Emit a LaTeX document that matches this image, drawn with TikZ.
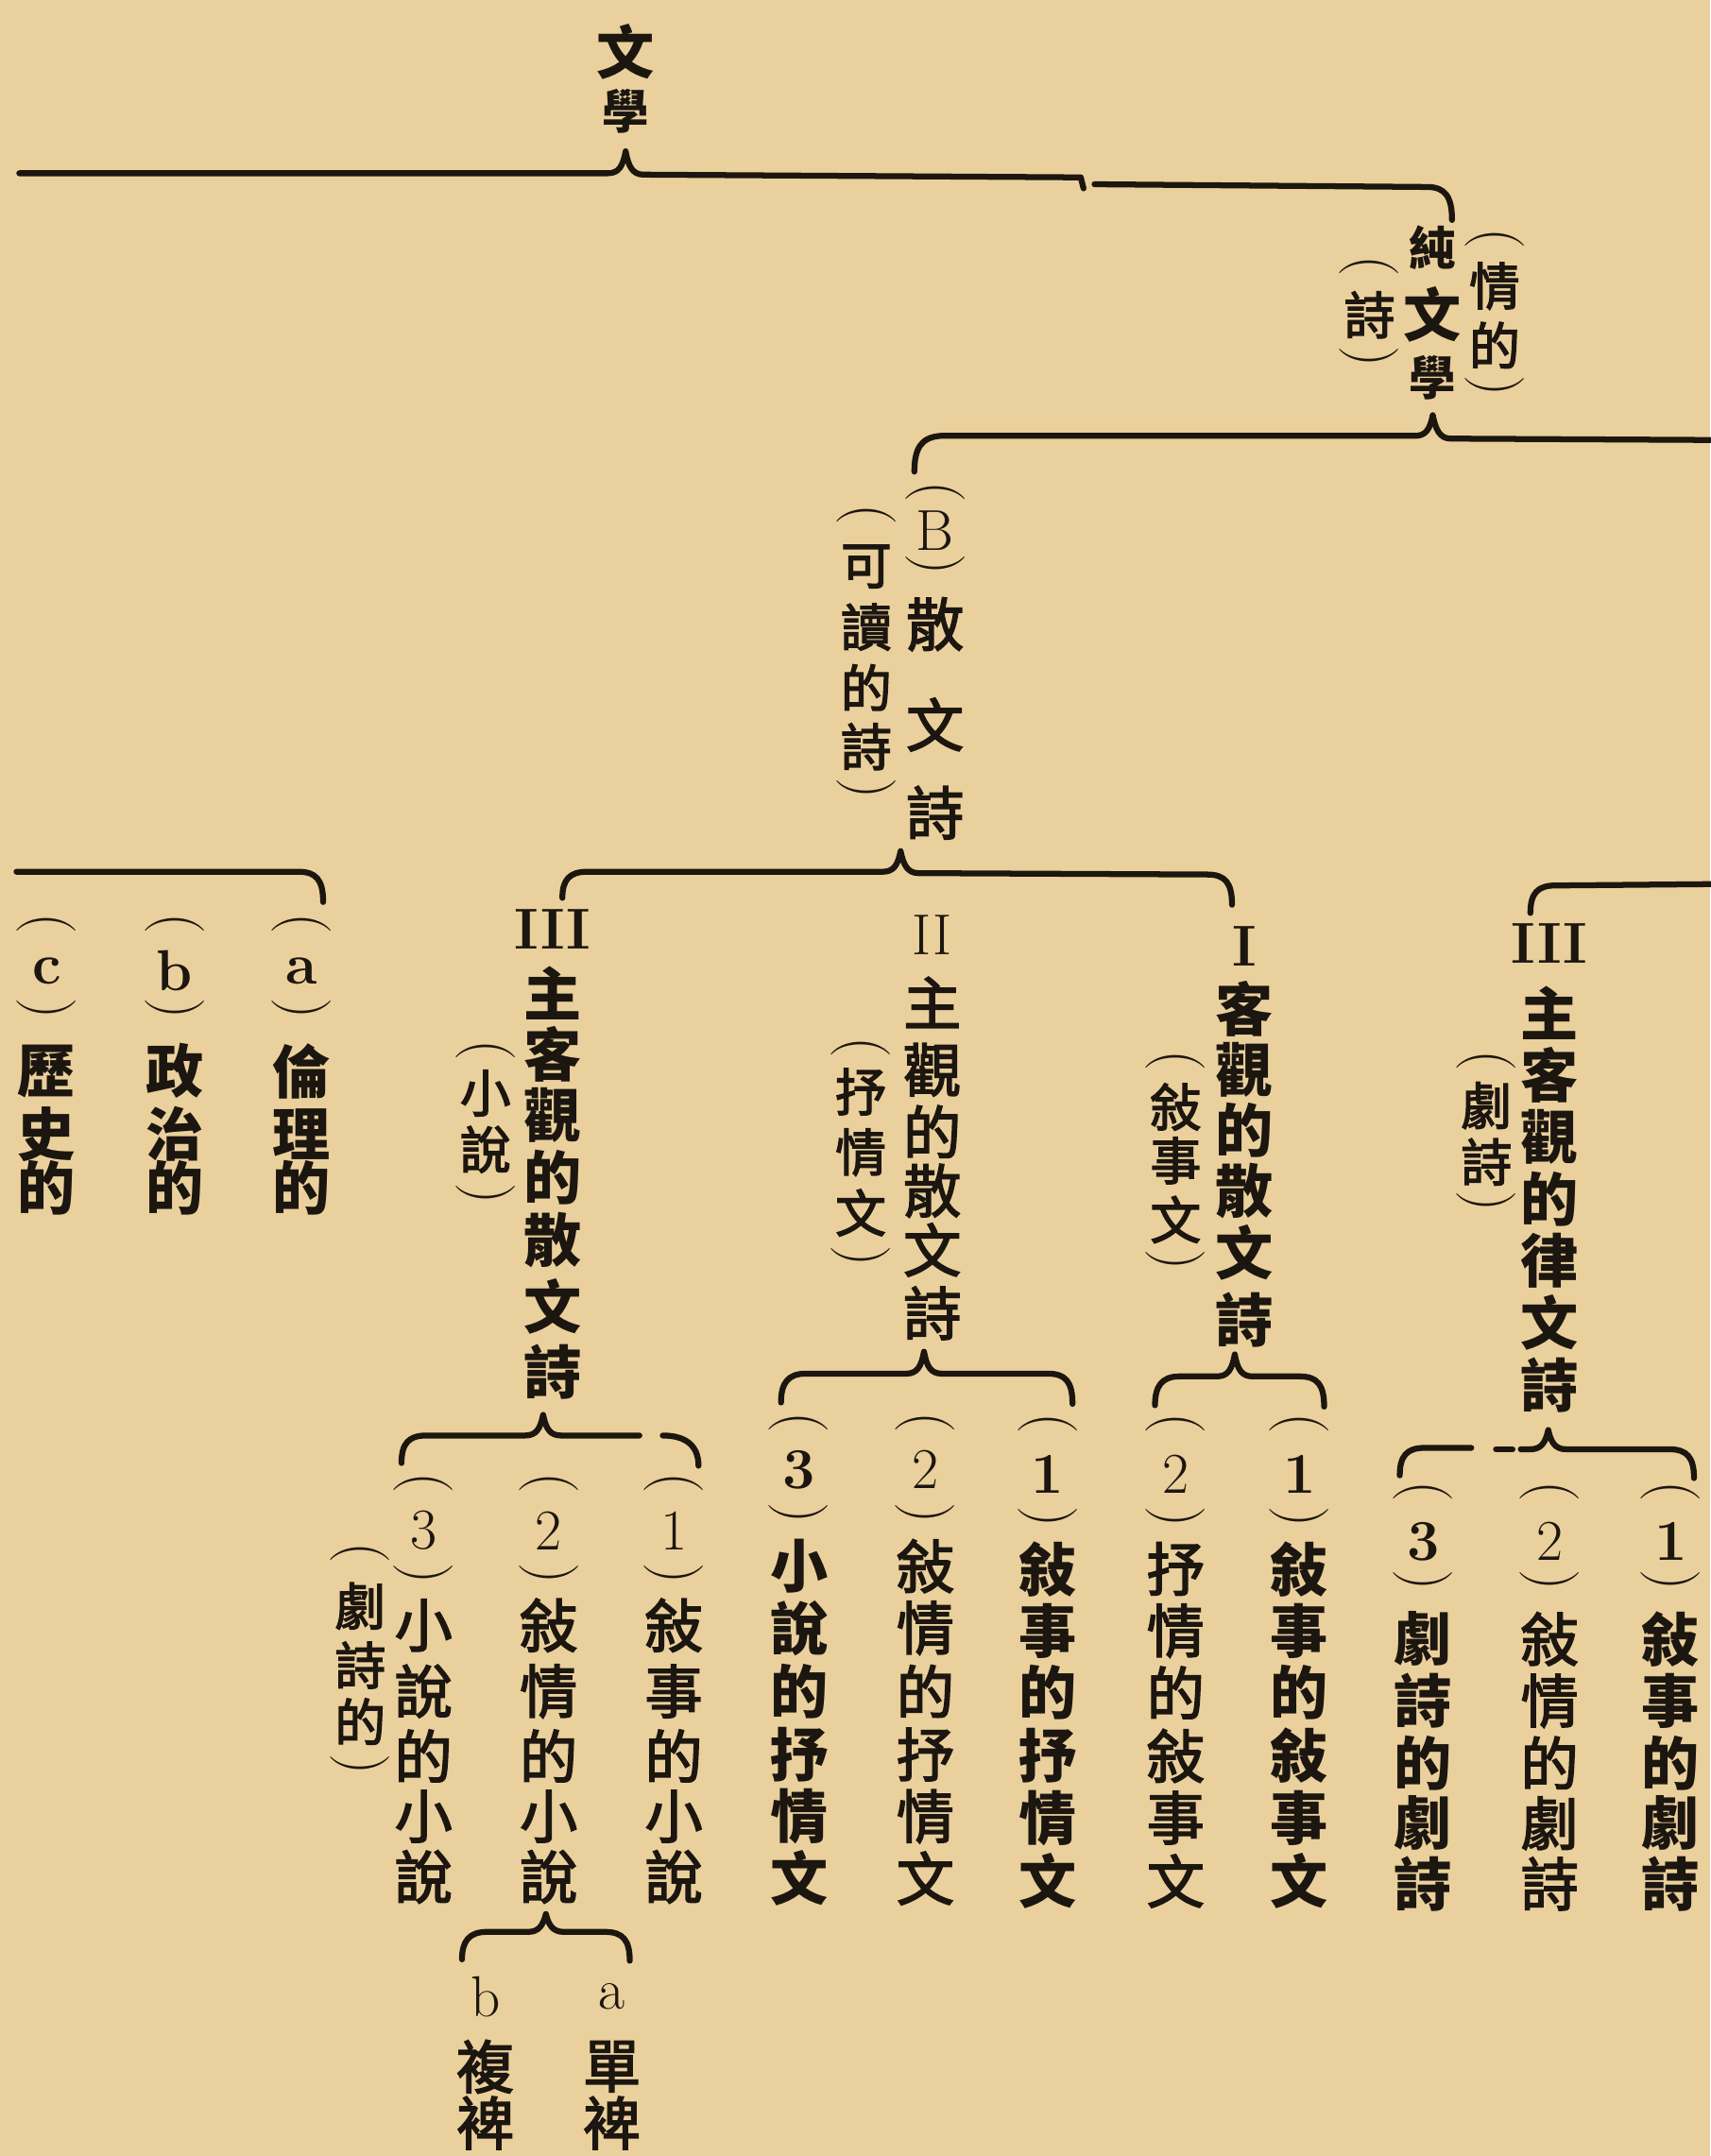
\documentclass[tikz,border=0pt]{standalone}
\usepackage{fontspec}
\usepackage{graphicx}
\newfontfamily\cjk{Noto Sans CJK TC}
\newfontfamily\cjkm[FakeBold=2.5]{Noto Sans CJK TC}
\definecolor{paper}{RGB}{234,208,156}
\definecolor{ink}{RGB}{28,22,16}
\newcommand\lt[1]{{\rmfamily #1}}
\newcommand\lp{{\rmfamily\mdseries\fontsize{43}{43}\selectfont\rotatebox[origin=c]{-90}{(}}}
\newcommand\rp{{\rmfamily\mdseries\fontsize{43}{43}\selectfont\rotatebox[origin=c]{-90}{)}}}
\newcommand\vcol[4]{\foreach \yy/\ch [count=\k] in {#4} {\node[#3] (#1-\k) at (#2,\yy) {\ch};}}
\tikzset{
  hb/.style={font=\cjk\bfseries\fontsize{42}{42}\selectfont, text=ink, inner sep=0pt},
  hbs/.style={font=\cjk\bfseries\fontsize{34}{34}\selectfont, text=ink, inner sep=0pt},
  hr/.style={font=\cjkm\fontsize{42}{42}\selectfont, text=ink, inner sep=0pt},
  an/.style={font=\cjkm\fontsize{37}{37}\selectfont, text=ink, inner sep=0pt},
  br/.style={draw=ink, line width=4.3pt, line cap=round, line join=round},
}
\begin{document}
\begin{tikzpicture}[x=1pt,y=-1pt]
\fill[paper] (0,0) rectangle (1244,1568);
\useasboundingbox (0,0) rectangle (1244,1568);

% ---- top: 文學
\node[hb] (wx1) at (455,38) {文};
\node[hbs] (wx2) at (455,81) {學};
\draw[br] (14,126) -- (442,126) .. controls (450,126) and (453,121) .. (455,110) .. controls (457,121) and (460,127) .. (468,127) -- (786,129) -- (788,137);
\draw[br] (796,134) -- (1038,136) .. controls (1051,136) and (1056,143) .. (1056,160);

% ---- 純文學
\vcol{qd}{1087}{an}{175/\lp,208/情,251/的,282/\rp}
\node[hbs] (cw1) at (1042,180) {純};
\node[hb] (cw2) at (1042,229) {文};
\node[hbs] (cw3) at (1042,275) {學};
\vcol{sh}{996}{an}{195/\lp,229/詩,261/\rp}
\draw[br] (665,343) .. controls (665,326) and (670,318) .. (684,317) -- (1029,317) .. controls (1037,317) and (1040,312) .. (1042,302) .. controls (1044,312) and (1047,319) .. (1055,319) -- (1244,320);

% ---- (B) 散文詩
\vcol{bs}{680}{hr}{359/\lp,386/\lt{B},412/\rp,454/散,527/文,591/詩}
\vcol{kd}{630}{an}{376/\lp,412/可,456/讀,500/的,543/詩,575/\rp}
\draw[br] (409,653) .. controls (409,640) and (414,634) .. (427,634) -- (642,634) .. controls (650,634) and (653,629) .. (655,619) .. controls (657,629) and (660,635) .. (668,635) -- (878,636) .. controls (891,636) and (896,642) .. (896,658);

% ---- left group
\draw[br] (12,634) -- (217,634) .. controls (230,634) and (235,640) .. (235,656);
\vcol{la}{219}{hb}{673/\lp,706/\lt{a},735/\rp,779/倫,825/理,864/的}
\vcol{lb}{127}{hb}{673/\lp,706/\lt{b},735/\rp,779/政,825/治,864/的}
\vcol{lc}{34}{hb}{673/\lp,706/\lt{c},735/\rp,779/歷,825/史,864/的}

% ---- III 主客觀的散文詩
\vcol{s3}{402}{hb}{676/\lt{III},722/主,767/客,811/觀,856/的,902/散,950/文,998/詩}
\vcol{s3a}{353}{an}{765/\lp,795/小,836/說,870/\rp}
% ---- II 主觀的散文詩
\vcol{s2}{678}{hr}{680/\lt{II},729/主,778/觀,823/的,866/散,909/文,955/詩}
\vcol{s2a}{626}{an}{763/\lp,794/抒,838/情,882/文,915/\rp}
% ---- I 客觀的散文詩
\vcol{s1}{905}{hb}{688/\lt{I},734/客,778/觀,822/的,866/散,911/文,960/詩}
\vcol{s1a}{855}{an}{773/\lp,805/敍,844/事,887/文,918/\rp}
% ---- III 主客觀的律文詩
\draw[br] (1113,664) .. controls (1113,650) and (1118,644) .. (1131,644) -- (1244,643);
\vcol{r3}{1127}{hb}{686/\lt{III},737/主,782/客,827/觀,872/的,917/律,962/文,1007/詩}
\vcol{r3a}{1081}{an}{773/\lp,804/劇,845/詩,875/\rp}

% ---- braces of the third level
\draw[br] (292,1064) .. controls (292,1050) and (297,1044) .. (310,1044) -- (382,1044) .. controls (390,1044) and (393,1039) .. (395,1029) .. controls (397,1039) and (400,1044) .. (408,1044) -- (465,1044);
\draw[br] (482,1044) .. controls (497,1044) and (508,1050) .. (508,1066);
\draw[br] (568,1020) .. controls (568,1006) and (573,999) .. (586,999) -- (659,999) .. controls (667,999) and (670,994) .. (672,983) .. controls (674,994) and (677,999) .. (685,999) -- (762,999) .. controls (775,999) and (780,1005) .. (780,1021);
\draw[br] (840,1022) .. controls (840,1008) and (845,1001) .. (858,1001) -- (885,1001) .. controls (893,1001) and (896,996) .. (898,985) .. controls (900,996) and (903,1001) .. (911,1001) -- (945,1001) .. controls (958,1001) and (963,1007) .. (963,1023);
\draw[br] (1018,1073) .. controls (1018,1059) and (1023,1053) .. (1036,1053) -- (1070,1053);
\draw[br] (1088,1054) -- (1100,1054);
\draw[br] (1106,1054) -- (1113,1054) .. controls (1121,1054) and (1124,1049) .. (1126,1040) .. controls (1128,1049) and (1131,1054) .. (1139,1054) -- (1214,1054) .. controls (1227,1054) and (1232,1060) .. (1232,1075);

% ---- leaves under III 散文詩
\vcol{n1}{490}{hr}{1080/\lp,1113/\lt{1},1146/\rp,1182/敍,1230/事,1277/的,1321/小,1365/說}
\vcol{n2}{399}{hr}{1080/\lp,1113/\lt{2},1146/\rp,1182/敍,1230/情,1277/的,1321/小,1365/說}
\vcol{n3}{308}{hr}{1080/\lp,1113/\lt{3},1146/\rp,1182/小,1230/說,1277/的,1321/小,1365/說}
\vcol{n3a}{262}{an}{1131/\lp,1168/劇,1211/詩,1252/的,1285/\rp}
\draw[br] (336,1425) .. controls (336,1412) and (341,1405) .. (354,1405) -- (384,1405) .. controls (392,1405) and (395,1400) .. (397,1392) .. controls (399,1400) and (402,1405) .. (410,1405) -- (440,1405) .. controls (453,1405) and (458,1411) .. (458,1426);
\vcol{na}{445}{hr}{1452/\lt{a},1503/單,1544/裨}
\vcol{nb}{353}{hr}{1452/\lt{b},1503/複,1544/裨}

% ---- leaves under II
\vcol{m3}{581}{hb}{1036/\lp,1069/\lt{3},1102/\rp,1139/小,1184/說,1230/的,1276/抒,1321/情,1366/文}
\vcol{m2}{673}{hr}{1036/\lp,1069/\lt{2},1102/\rp,1139/敍,1184/情,1230/的,1276/抒,1321/情,1366/文}
\vcol{m1}{762}{hb}{1037/\lp,1072/\lt{1},1105/\rp,1141/敍,1186/事,1231/的,1277/抒,1322/情,1368/文}
% ---- leaves under I
\vcol{k2}{855}{hr}{1037/\lp,1072/\lt{2},1105/\rp,1141/抒,1186/情,1231/的,1277/敍,1322/事,1368/文}
\vcol{k1}{945}{hb}{1037/\lp,1072/\lt{1},1105/\rp,1141/敍,1186/事,1231/的,1277/敍,1322/事,1368/文}
% ---- leaves under III 律文詩
\vcol{d3}{1035}{hb}{1086/\lp,1121/\lt{3},1151/\rp,1192/劇,1237/詩,1282/的,1326/劇,1370/詩}
\vcol{d2}{1127}{hr}{1086/\lp,1121/\lt{2},1151/\rp,1192/敍,1237/情,1282/的,1326/劇,1370/詩}
\vcol{d1}{1215}{hb}{1086/\lp,1121/\lt{1},1151/\rp,1192/敍,1237/事,1282/的,1326/劇,1370/詩}
\end{tikzpicture}
\end{document}
